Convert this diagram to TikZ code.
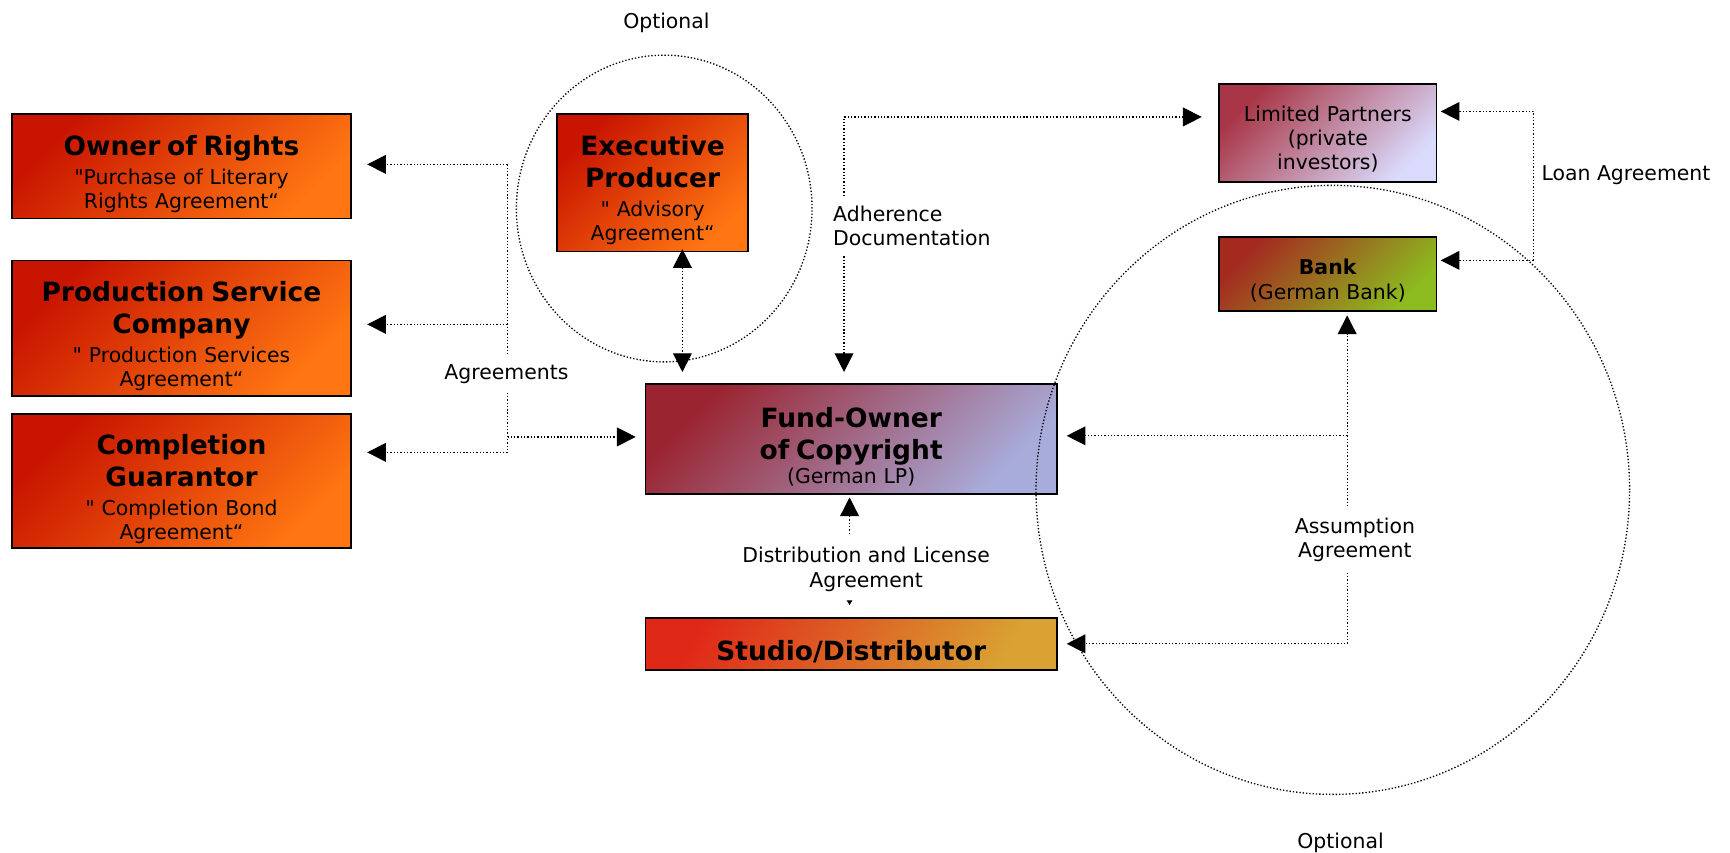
\documentclass[tikz,border=0pt]{standalone}
\usepackage{fontspec}
\setmainfont{DejaVu Sans}[Ligatures=TeXOff]
\usepackage{tikz}
\usetikzlibrary{arrows.meta}
\usetikzlibrary{positioning}
\usepackage{xcolor}
\setlength{\parindent}{0pt}

\definecolor{ownerred}{HTML}{C81400}
\definecolor{ownerorange}{HTML}{FF7612}
\definecolor{fundred}{HTML}{9A2430}
\definecolor{fundmauve}{HTML}{9C7298}
\definecolor{fundblue}{HTML}{A8ACDA}
\definecolor{lpred}{HTML}{A83646}
\definecolor{lpblue}{HTML}{DADAFC}
\definecolor{bankred}{HTML}{A42A20}
\definecolor{bankgreen}{HTML}{8CBC20}
\definecolor{studiored}{HTML}{E02818}
\definecolor{studiogold}{HTML}{D9A232}

\newcommand{\boxtitle}[1]{{\fontsize{24}{29}\selectfont\bfseries #1\par}}

\begin{document}
\begin{tikzpicture}[x=1pt,y=-1pt,
  txt/.style={font=\fontsize{18.5}{22}\selectfont, align=center, inner sep=0pt},
  box/.style={txt, draw=black, line width=1.6pt, execute at begin node={\vskip 3.5pt}},
  orangebox/.style={box, left color=ownerred, right color=ownerorange, shading angle=45},
  fundbox/.style={box, left color=fundred, middle color=fundmauve, right color=fundblue, shading angle=45},
  lpbox/.style={box, left color=lpred, right color=lpblue, shading angle=45},
  bankbox/.style={box, left color=bankred, right color=bankgreen, shading angle=45},
  studiobox/.style={box, left color=studiored, right color=studiogold, shading angle=60},
  link/.style={line width=1.2pt, dash pattern=on 1.2pt off 1.8pt},
  conn/.style={link, -{Triangle[length=17pt,width=17pt]}},
  conn2/.style={link, {Triangle[length=17pt,width=17pt]}-{Triangle[length=17pt,width=17pt]}}]
\useasboundingbox (0,0) rectangle (1568,773);

\node[orangebox, text width=295pt, minimum width=307pt, minimum height=95pt] (owner) at (164.5,150.5)
  {\boxtitle{Owner of Rights}\vskip4pt"Purchase of Literary\par Rights Agreement“};
\node[orangebox, text width=295pt, minimum width=307pt, minimum height=123pt] (prodsvc) at (164.5,297.5)
  {\boxtitle{Production Service\par Company}\vskip4pt" Production Services\par Agreement“};
\node[orangebox, text width=295pt, minimum width=307pt, minimum height=122pt] (completion) at (164.5,436)
  {\boxtitle{Completion\par Guarantor}\vskip4pt" Completion Bond\par Agreement“};
\node[orangebox, text width=165pt, minimum width=173pt, minimum height=125pt] (exec) at (591.5,165.5)
  {\boxtitle{Executive\par Producer}\vskip4pt" Advisory\par Agreement“};
\node[fundbox, text width=360pt, minimum width=373pt, minimum height=100pt] (fund) at (771.5,398)
  {\boxtitle{Fund-Owner\par of Copyright}(German LP)};
\node[studiobox, text width=360pt, minimum width=373pt, minimum height=47pt] (studio) at (771.5,583.5)
  {\boxtitle{Studio/Distributor}};
\node[lpbox, text width=185pt, minimum width=197pt, minimum height=89pt] (partners) at (1203.5,120.5)
  {Limited Partners\par(private\par investors)};
\node[bankbox, text width=185pt, minimum width=197pt, minimum height=67pt] (bank) at (1203.5,248.5)
  {\textbf{Bank}\par(German Bank)};

\node[txt] (opttop) at (604,21) {Optional};
\node[txt] (optbot) at (1215,764) {Optional};
\node[txt, inner ysep=8pt] (agreements) at (459,339) {Agreements};
\node[txt, align=left, anchor=west, inner xsep=5pt, inner ysep=9pt] (adherence) at (750,205)
  {Adherence\\Documentation};
\node[txt, inner ysep=12pt] (distlabel) at (785,516) {Distribution and License\\Agreement};
\node[txt, anchor=west, inner xsep=4pt] (loanlabel) at (1393,159) {Loan Agreement};
\node[txt, inner ysep=10pt] (assumption) at (1228,489) {Assumption\\Agreement};

\coordinate (agrowner) at (460,149);
\coordinate (agrprod) at (460,294);
\coordinate (agrcomp) at (460,410);
\coordinate (agrfund) at (460,396);
\draw[link] (agrowner) -- (agrowner |- agreements.north);
\draw[link] (agreements.south -| agrcomp) -- (agrcomp);
\draw[conn, shorten >=14pt] (agrowner) -- (agrowner -| owner.east);
\draw[conn, shorten >=14pt] (agrprod) -- (agrprod -| prodsvc.east);
\draw[conn, shorten >=14pt] (agrcomp) -- (agrcomp -| completion.east);
\draw[conn, shorten >=8pt] (agrfund) -- (agrfund -| fund.west);

\coordinate (execx) at ([xshift=27pt]exec.south);
\draw[conn2, shorten <=-3pt, shorten >=10pt] (execx) -- (execx |- fund.north);

\coordinate (adhtop) at (765,106);
\draw[conn, shorten >=15pt] (adherence.north -| adhtop) -- (adhtop) -- (adhtop -| partners.west);
\draw[conn, shorten >=10pt] (adherence.south -| adhtop) -- (adhtop |- fund.north);

\coordinate (loantop) at (1390,101);
\coordinate (loanbot) at (1390,236);
\draw[conn, shorten >=3pt] (loanbot) -- (loantop) -- (loantop -| partners.east);
\draw[conn, shorten >=3pt] (loanbot) -- (loanbot -| bank.east);

\coordinate (asmfund) at (1221,395);
\draw[conn, shorten >=3pt] (assumption.north -| asmfund) -- (asmfund |- bank.south);
\draw[conn, shorten >=8pt] (asmfund) -- (asmfund -| fund.east);
\draw[conn, shorten >=8pt] (assumption.south -| asmfund) |- (studio.east);

\coordinate (distx) at (770,480);
\draw[conn, shorten >=2pt] (distlabel.north -| distx) -- (distx |- fund.south);
\draw[link, -{Triangle[length=4pt,width=5pt]}, shorten >=11pt] (distlabel.south -| distx) -- (distx |- studio.north);

\draw[link] (602,189) ellipse [x radius=134pt, y radius=139pt];
\draw[link] (1208,444) ellipse [x radius=269pt, y radius=276pt];
\end{tikzpicture}
\end{document}
